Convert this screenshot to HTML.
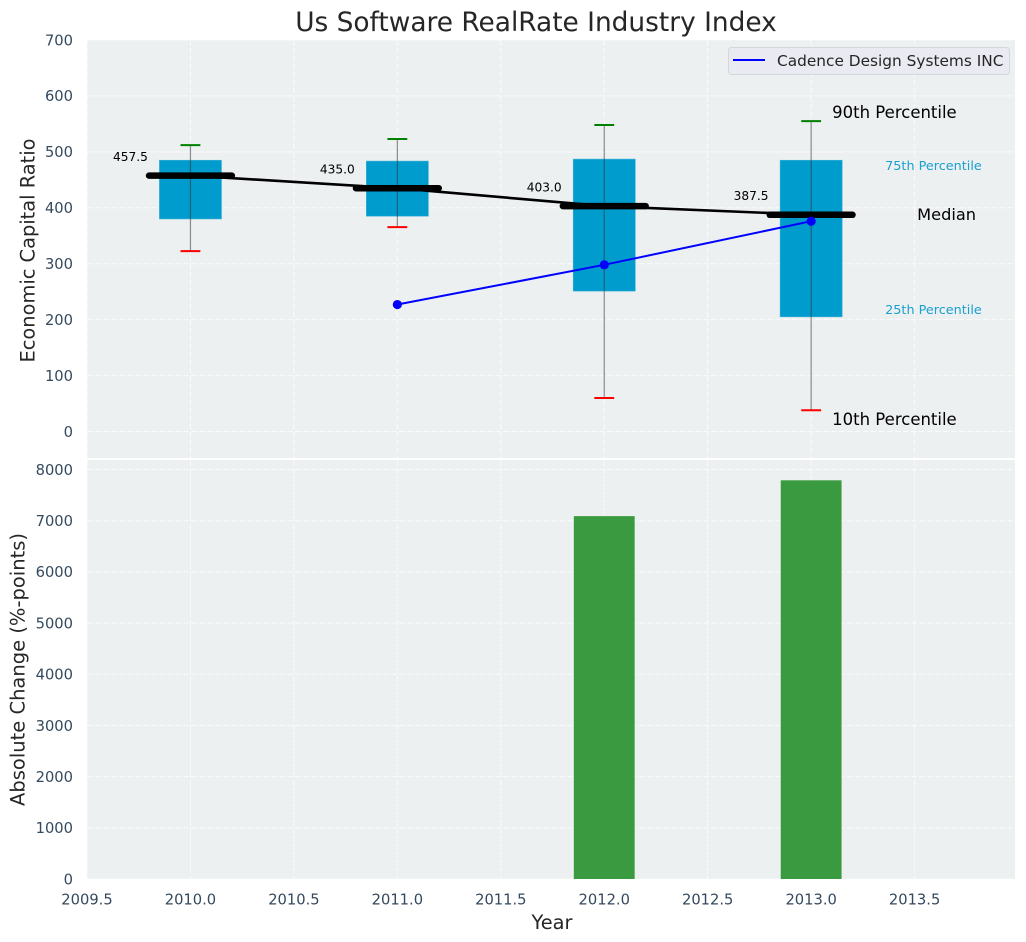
<!DOCTYPE html>
<html>
<head>
<meta charset="utf-8">
<style>
html,body{margin:0;padding:0;background:#fff;width:1026px;height:942px;overflow:hidden}
svg{display:block;font-family:"DejaVu Sans","Liberation Sans",sans-serif}
</style>
</head>
<body>
<svg id="chart" width="1026" height="942" viewBox="0 0 1026 942" xmlns="http://www.w3.org/2000/svg">
<text x="536" y="31" font-size="26.4" fill="#262626" text-anchor="middle">Us Software RealRate Industry Index</text>
<text transform="translate(34.5,250.5) rotate(-90)" font-size="19.4" fill="#262626" text-anchor="middle">Economic Capital Ratio</text>
<text transform="translate(24.5,669.5) rotate(-90)" font-size="19.5" fill="#262626" text-anchor="middle">Absolute Change (%-points)</text>
<text x="552" y="929" font-size="19.4" fill="#262626" text-anchor="middle">Year</text>
<g id="layers"></g>
</svg>
<script>
const years = [2010, 2011, 2012, 2013];
const p90 = [512, 523, 548, 555];
const p75 = [485, 483.5, 487, 485];
const medians = [457.5, 435.0, 403.0, 387.5];
const p25 = [380, 385, 251, 205];
const p10 = [322.5, 365.5, 60, 38];
const companyYears = [2011, 2012, 2013];
const companyValues = [227, 298, 376];
const changeYears = [2012, 2013];
const changeValues = [7090, 7790];
const xTicks = [2009.5, 2010.0, 2010.5, 2011.0, 2011.5, 2012.0, 2012.5, 2013.0, 2013.5];
const topYTicks = [0, 100, 200, 300, 400, 500, 600, 700];
const bottomYTicks = [0, 1000, 2000, 3000, 4000, 5000, 6000, 7000, 8000];

const NS = 'http://www.w3.org/2000/svg';
const L = 87, R = 1015, T1 = 40, B1 = 458, T2 = 460, B2 = 879;
const X = v => L + (v - 2009.5) * 206.9;
const Y1 = v => 431.5 - v * 0.5593;
const Y2 = v => 879 - v * 0.05118;
const root = document.getElementById('layers');

function make(tag, attrs, text) {
  const el = document.createElementNS(NS, tag);
  for (const k in attrs) el.setAttribute(k, attrs[k]);
  if (text !== undefined) el.textContent = text;
  root.appendChild(el);
  return el;
}
function line(x1, y1, x2, y2, stroke, width, extra) {
  return make('line', Object.assign({x1: x1, y1: y1, x2: x2, y2: y2, stroke: stroke, 'stroke-width': width}, extra || {}));
}

/* panels */
let panel = make('rect', {x: L, y: T1, width: R - L, height: B1 - T1, fill: '#ecf0f1'});


panel = make('rect', {x: L, y: T2, width: R - L, height: B2 - T2, fill: '#ecf0f1'});



/* grid */
const dash = {'stroke-dasharray': '5.5 2.5', 'stroke-opacity': 0.75};
xTicks.forEach(t => {
  let g = line(X(t), T1, X(t), B1, '#ffffff', 1, dash);
  
  
  g = line(X(t), T2, X(t), B2, '#ffffff', 1, dash);
  
  
  const lab = make('text', {x: X(t), y: 904.5, 'font-size': 14.7, fill: '#34495e', 'text-anchor': 'middle'}, t.toFixed(1));
  
  
});
topYTicks.forEach(t => {
  const g = line(L, Y1(t), R, Y1(t), '#ffffff', 1, dash);
  
  
  const lab = make('text', {x: 73, y: Y1(t) + 5.3, 'font-size': 14.7, fill: '#34495e', 'text-anchor': 'end'}, String(t));
  
  
});
bottomYTicks.forEach(t => {
  const g = line(L, Y2(t), R, Y2(t), '#ffffff', 1, dash);
  
  
  const lab = make('text', {x: 73, y: Y2(t) + 5.3, 'font-size': 14.7, fill: '#34495e', 'text-anchor': 'end'}, String(t));
  
  
});

/* boxes */
years.forEach((yr, i) => {
  const box = make('rect', {x: X(yr - 0.15), y: Y1(p75[i]), width: X(yr + 0.15) - X(yr - 0.15), height: Y1(p25[i]) - Y1(p75[i]), fill: '#009ccd', stroke: '#3fb0d6', 'stroke-width': 0.6});
  
  
  const w = line(X(yr), Y1(p90[i]), X(yr), Y1(p10[i]), '#333333', 1.2, {'stroke-opacity': 0.55});
  
  
  const capHi = line(X(yr - 0.048), Y1(p90[i]), X(yr + 0.048), Y1(p90[i]), '#008000', 2);
  
  
  const capLo = line(X(yr - 0.048), Y1(p10[i]), X(yr + 0.048), Y1(p10[i]), '#ff0000', 2);
  
  
});

/* median trend */
const medianLine = make('polyline', {points: years.map((yr, i) => X(yr) + ',' + Y1(medians[i])).join(' '), fill: 'none', stroke: '#000000', 'stroke-width': 2.6});


years.forEach((yr, i) => {
  const m = line(X(yr - 0.2), Y1(medians[i]), X(yr + 0.2), Y1(medians[i]), '#000000', 6.5, {'stroke-linecap': 'round'});
  
  
  const v = make('text', {x: X(yr) - 77.5, y: Y1(medians[i]) - 14.8, 'font-size': 12.2, fill: '#000000'}, medians[i].toFixed(1));
  
  
});

/* company series */
const companyLine = make('polyline', {points: companyYears.map((yr, i) => X(yr) + ',' + Y1(companyValues[i])).join(' '), fill: 'none', stroke: '#0000ff', 'stroke-width': 2});


companyYears.forEach((yr, i) => {
  const c = make('circle', {cx: X(yr), cy: Y1(companyValues[i]), r: 4.6, fill: '#0000ff'});
  
  
});

/* change bars */
changeYears.forEach((yr, i) => {
  const b = make('rect', {x: X(yr - 0.147), y: Y2(changeValues[i]), width: X(yr + 0.147) - X(yr - 0.147), height: Y2(0) - Y2(changeValues[i]), fill: '#3a9a3f'});
  
  
});

/* percentile key beside the last box */
const lastX = X(years[years.length - 1]);
let key = make('text', {x: lastX + 21, y: 118, 'font-size': 16.5, fill: '#000000'}, '90th Percentile');


key = make('text', {x: lastX + 74, y: 170, 'font-size': 12.8, fill: '#1a9fd0'}, '75th Percentile');


key = make('text', {x: lastX + 106, y: 220, 'font-size': 16.2, fill: '#000000'}, 'Median');


key = make('text', {x: lastX + 74, y: 314, 'font-size': 12.8, fill: '#1a9fd0'}, '25th Percentile');


key = make('text', {x: lastX + 21, y: 425, 'font-size': 16.5, fill: '#000000'}, '10th Percentile');



/* panel divider */
const divider = make('rect', {x: L, y: B1, width: R - L, height: T2 - B1, fill: '#ffffff'});



/* legend */
const legendBox = make('rect', {x: 728.5, y: 47.5, width: 281, height: 27, rx: 3, fill: '#eaeaf2', stroke: '#d6d6de', 'stroke-width': 1});


const legendLine = line(733, 60, 765, 60, '#0000ff', 2);


const legendText = make('text', {x: 777, y: 66, 'font-size': 15.35, fill: '#262626'}, 'Cadence Design Systems INC');


</script>
</body>
</html>
